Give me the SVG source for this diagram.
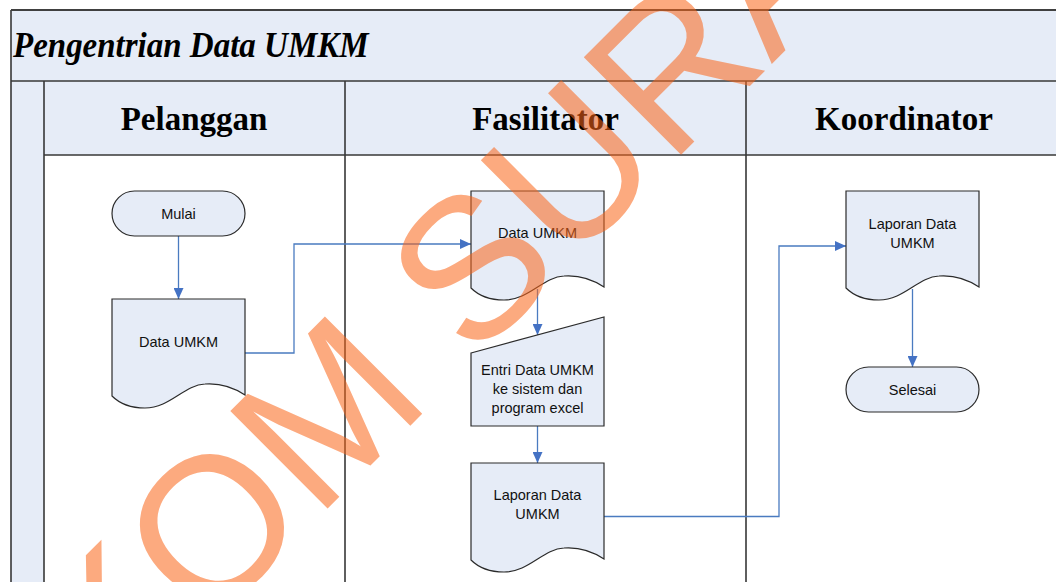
<svg xmlns="http://www.w3.org/2000/svg" width="1056" height="582" viewBox="0 0 1056 582">
<style>
.band{fill:#E6ECF7;stroke:none}
.grid{stroke:#383838;stroke-width:1.6;fill:none}
.node{fill:#E6ECF7;stroke:#2b2b2b;stroke-width:1.2}
.lbl{font-family:"Liberation Sans",Arial,sans-serif;font-size:14.5px;fill:#111;text-anchor:middle}
.hdr{font-family:"Liberation Serif","Times New Roman",serif;font-size:33px;font-weight:bold;fill:#000;text-anchor:middle}
.ttl{font-family:"Liberation Serif","Times New Roman",serif;font-size:33px;font-weight:bold;font-style:italic;fill:#000}
.con{fill:none;stroke:#4A7BC0;stroke-width:1.3}
.wm{font-family:"Liberation Sans",Arial,sans-serif;font-size:200px;fill:#FB6518;opacity:0.55;text-anchor:middle}
</style>
<defs>
<marker id="arr" markerUnits="userSpaceOnUse" markerWidth="11" markerHeight="10" refX="11" refY="5" orient="auto">
<path d="M0,0 L11,5 L0,10 z" fill="#4472C4"/>
</marker>
</defs>
<rect width="1056" height="582" fill="#fff"/>
<g id="pool">
<rect class="band" x="11" y="10" width="1050" height="71"/>
<rect class="band" x="11" y="81" width="33" height="510"/>
<rect class="band" x="44" y="81" width="1020" height="74"/>
<path class="grid" d="M11,10 H1060 M11,10 V590 M11,81 H1060 M44,81 V590 M44,155 H1060 M345,81 V590 M746,81 V590" />
<path d="M11,10 H1060" stroke="#404040" stroke-width="2"/>
<text class="ttl" transform="translate(13,57) scale(1,1.08)" x="0" y="0">Pengentrian Data UMKM</text>
<text class="hdr" x="194" y="130">Pelanggan</text>
<text class="hdr" x="545.5" y="130">Fasilitator</text>
<text class="hdr" x="904" y="130">Koordinator</text>
</g>
<g id="connectors">
<path class="con" d="M178.5,236 V299" marker-end="url(#arr)"/>
<path class="con" d="M245,353 H294 V244 H471" marker-end="url(#arr)"/>
<path class="con" d="M537.5,289 V335" marker-end="url(#arr)"/>
<path class="con" d="M537.5,426 V463" marker-end="url(#arr)"/>
<path class="con" d="M604,516.5 H779 V246 H846" marker-end="url(#arr)"/>
<path class="con" d="M912.5,289 V367" marker-end="url(#arr)"/>
</g>
<g id="mulai">
<rect class="node" x="112" y="191" width="133" height="45" rx="22.5"/>
<text class="lbl" x="178.5" y="219">Mulai</text>
</g>
<g id="data-umkm-pelanggan">
<path class="node" d="M112,299 h133 v96 c-12,-8 -26,-12 -40,-11 c-21,1 -35,24 -60,24 c-16,0 -26,-5 -33,-12 z"/>
<text class="lbl" x="178.5" y="347">Data UMKM</text>
</g>
<g id="data-umkm-fasilitator">
<path class="node" d="M471,191 h133 v96 c-12,-8 -26,-12 -40,-11 c-21,1 -35,24 -60,24 c-16,0 -26,-5 -33,-12 z"/>
<text class="lbl" x="537.5" y="238">Data UMKM</text>
</g>
<g id="entri-data">
<path class="node" d="M471,353 L604,317 V426 H471 z"/>
<text class="lbl" x="537.5" y="375">Entri Data UMKM</text>
<text class="lbl" x="537.5" y="394">ke sistem dan</text>
<text class="lbl" x="537.5" y="413">program excel</text>
</g>
<g id="laporan-fasilitator">
<path class="node" d="M471,463 h133 v96 c-12,-8 -26,-12 -40,-11 c-21,1 -35,24 -60,24 c-16,0 -26,-5 -33,-12 z"/>
<text class="lbl" x="537.5" y="500">Laporan Data</text>
<text class="lbl" x="537.5" y="519">UMKM</text>
</g>
<g id="laporan-koordinator">
<path class="node" d="M846,191 h133 v96 c-12,-8 -26,-12 -40,-11 c-21,1 -35,24 -60,24 c-16,0 -26,-5 -33,-12 z"/>
<text class="lbl" x="912.5" y="229">Laporan Data</text>
<text class="lbl" x="912.5" y="248">UMKM</text>
</g>
<g id="selesai">
<rect class="node" x="846" y="367" width="133" height="45" rx="22.5"/>
<text class="lbl" x="912.5" y="395">Selesai</text>
</g>
<g id="watermark">
<text class="wm" transform="translate(506,228) rotate(-45)" x="0" y="72">STIKOM SURABAYA</text>
</g>
</svg>
